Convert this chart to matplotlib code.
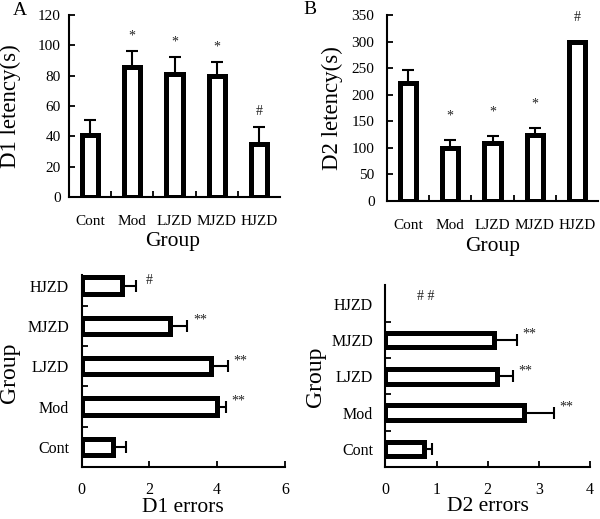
import matplotlib
matplotlib.use("Agg")
import matplotlib.pyplot as plt
import numpy as np

plt.rcParams['font.family'] = ['Liberation Serif', 'DejaVu Serif']

groups = ["Cont", "Mod", "LJZD", "MJZD", "HJZD"]

d1_latency = [41, 86, 81, 80, 35]
d1_latency_err = [10, 10, 11, 9, 11]
d1_latency_marks = ["", "*", "*", "*", "#"]

d2_latency = [222, 99, 110, 124, 300]
d2_latency_err = [25, 16, 13, 14, 0]
d2_latency_marks = ["", "*", "*", "*", "#"]

d1_errors = [0.93, 3.99, 3.83, 2.61, 1.18]
d1_errors_err = [0.38, 0.26, 0.49, 0.51, 0.42]
d1_errors_marks = ["", "**", "**", "**", "#"]

d2_errors = [0.75, 2.70, 2.18, 2.13, 0.0]
d2_errors_err = [0.17, 0.59, 0.31, 0.44, 0.0]
d2_errors_marks = ["", "**", "**", "**", "# #"]

W, H = 600, 519
fig = plt.figure(figsize=(6.0, 5.19), dpi=100)

def rect(l, r, t, b):
    return [l / W, 1 - b / H, (r - l) / W, (b - t) / H]

EDGE = 3.6
SPINE = 1.5

def style(ax):
    for s in ("top", "right"):
        ax.spines[s].set_visible(False)
    for s in ("left", "bottom"):
        ax.spines[s].set_linewidth(SPINE)
    ax.tick_params(which="both", direction="in", width=1.3, length=4)

def center_labels(ax, xl, yl):
    ax.yaxis.label.set_va("center")
    ax.xaxis.label.set_va("center")
    ax.yaxis.set_label_coords(*yl)
    ax.xaxis.set_label_coords(*xl)

def vpanel(ax, vals, errs, marks, ymax, ystep, ylabel, mark_off):
    x = np.arange(len(groups))
    lw = [EDGE if v > 0 else 0 for v in vals]
    ax.bar(x, vals, width=0.38, color="white", edgecolor="black",
           linewidth=lw, zorder=2)
    sel = [i for i, e in enumerate(errs) if e > 0]
    ax.errorbar([x[i] for i in sel], [vals[i] for i in sel],
                yerr=[np.zeros(len(sel)), [errs[i] for i in sel]], fmt="none",
                ecolor="black", elinewidth=1.5, capsize=4.5, capthick=1.5,
                zorder=3)
    for xi, v, er, m in zip(x, vals, errs, marks):
        if m:
            ax.annotate(m, (xi, v + er), xytext=(0, mark_off),
                        textcoords="offset points", ha="center", va="center",
                        fontsize=10, color="#222222")
    ax.set_xlim(-0.5, len(groups) - 0.5)
    ax.set_ylim(0, ymax)
    ax.set_yticks(np.arange(0, ymax + 1, ystep))
    ax.set_xticks(x)
    ax.set_xticklabels(groups)
    ax.set_xticks(np.arange(0.5, len(groups) - 0.5, 1), minor=True)
    style(ax)
    ax.tick_params(axis="x", which="major", length=0, pad=13)
    ax.tick_params(axis="y", pad=6)
    ax.tick_params(labelsize=11)
    ax.set_ylabel(ylabel, fontsize=16.5)
    ax.set_xlabel("Group", fontsize=15.5)

def hpanel(ax, vals, errs, marks, xmax, xstep, xlabel, mark_offs, spine_top):
    y = np.arange(len(groups))
    lw = [EDGE if v > 0 else 0 for v in vals]
    ax.barh(y, vals, height=0.40, color="white", edgecolor="black",
            linewidth=lw, zorder=2)
    sel = [i for i, e in enumerate(errs) if e > 0]
    ax.errorbar([vals[i] for i in sel], [y[i] for i in sel],
                xerr=[np.zeros(len(sel)), [errs[i] for i in sel]], fmt="none",
                ecolor="black", elinewidth=1.5, capsize=4.5, capthick=1.5,
                zorder=3)
    for yi, v, er, m, off in zip(y, vals, errs, marks, mark_offs):
        if m:
            ax.annotate(m, (v + er, yi), xytext=off,
                        textcoords="offset points", ha="left", va="center",
                        fontsize=10, color="#222222")
    ax.set_ylim(-0.5, len(groups) - 0.5)
    ax.set_xlim(0, xmax)
    ax.set_xticks(np.arange(0, xmax + 0.01, xstep))
    ax.set_yticks(y)
    ax.set_yticklabels(groups)
    ax.set_yticks(np.arange(0.5, len(groups) - 0.5, 1), minor=True)
    style(ax)
    ax.spines["left"].set_bounds(-0.5, spine_top)
    ax.tick_params(axis="y", which="major", length=0, pad=9)
    ax.tick_params(axis="x", pad=11)
    ax.tick_params(labelsize=11.5)
    ax.set_xlabel(xlabel, fontsize=15.5)
    ax.set_ylabel("Group", fontsize=17)

# Panel A
axA = fig.add_axes(rect(69, 280, 15, 197))
vpanel(axA, d1_latency, d1_latency_err, d1_latency_marks, 120, 20,
       "D1 letency(s)", 11)
center_labels(axA, (0.49, -0.247), (-0.28, 0.5))
fig.text(20 / W, 1 - 10.5 / H, "A", fontsize=14, ha="center", va="center")

# Panel B
axB = fig.add_axes(rect(387, 598, 15, 201))
vpanel(axB, d2_latency, d2_latency_err, d2_latency_marks, 350, 50,
       "D2 letency(s)", 17)
axB.tick_params(axis="y", pad=9)
center_labels(axB, (0.5, -0.247), (-0.26, 0.5))
fig.text(310 / W, 1 - 10 / H, "B", fontsize=14, ha="center", va="center")

# Panel C
axC = fig.add_axes(rect(81.7, 285, 265.4, 467))
hpanel(axC, d1_errors, d1_errors_err, d1_errors_marks, 6, 2,
       "D1 errors", [(4, 4)] * 4 + [(7, 4)], 4.25)
center_labels(axC, (0.5, -0.203), (-0.353, 0.466))

# Panel D
axD = fig.add_axes(rect(385.4, 590, 285.5, 467))
hpanel(axD, d2_errors, d2_errors_err, d2_errors_marks, 4, 1,
       "D2 errors", [(4, 4)] * 4 + [(23, 5)], 4.5)
center_labels(axD, (0.5, -0.22), (-0.344, 0.496))

fig.savefig("out.png", dpi=100)
